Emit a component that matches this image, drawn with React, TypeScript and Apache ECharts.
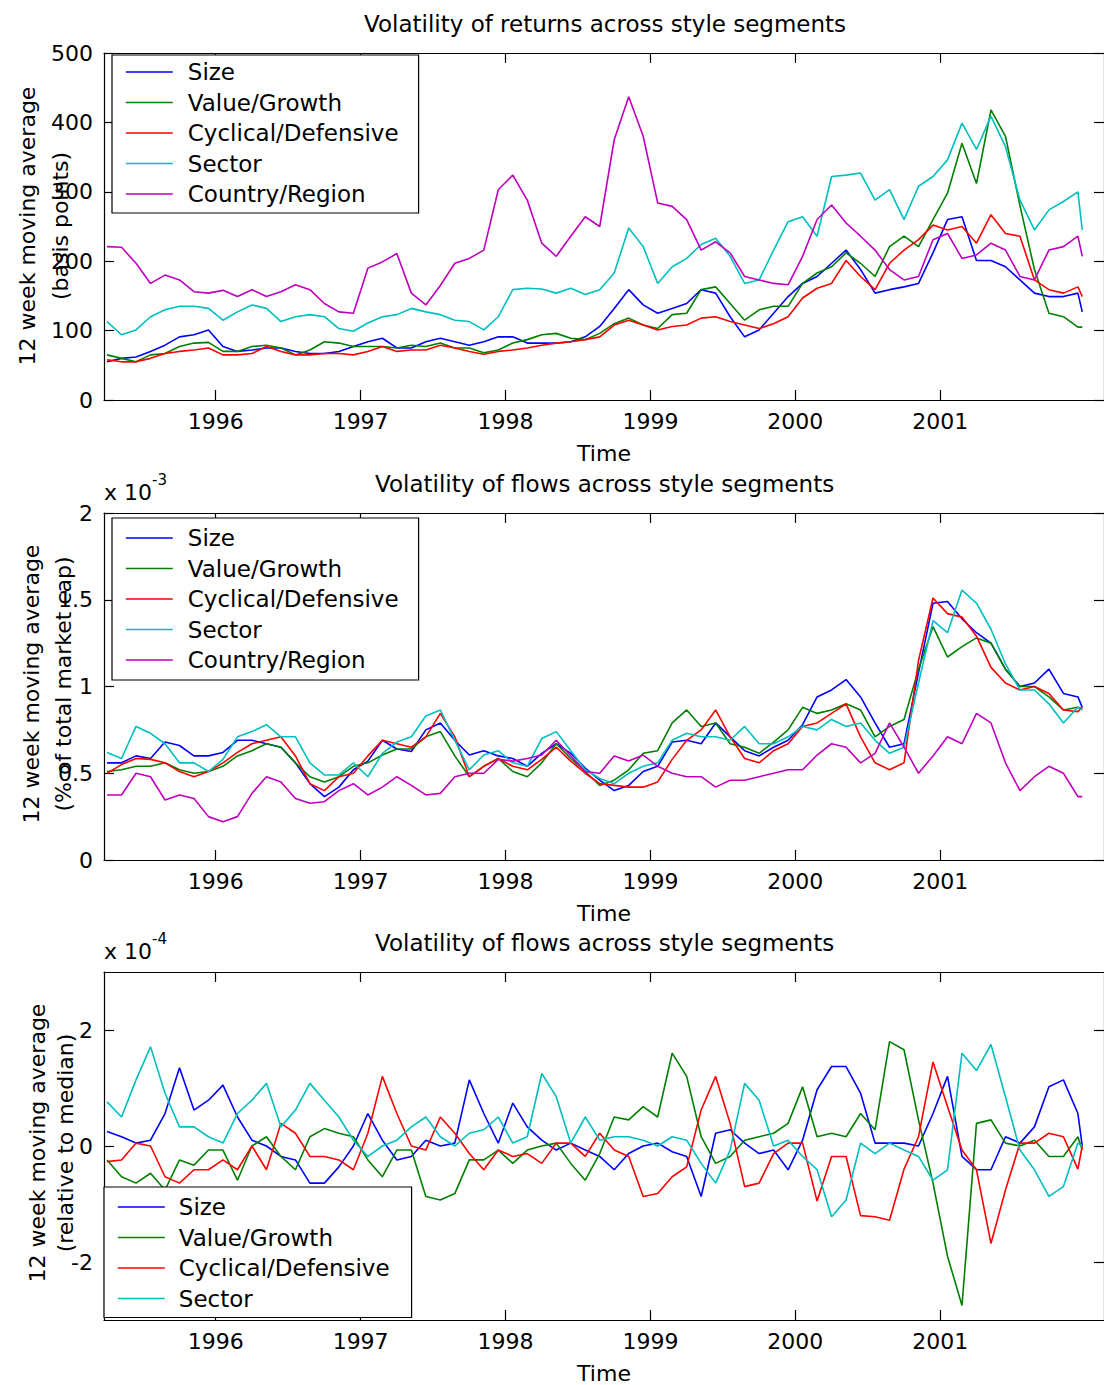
import React, { useEffect, useRef } from 'react';
import * as echarts from 'echarts';

// ---------- data ----------
const time = [
  1995.25, 1995.35, 1995.45, 1995.55, 1995.65, 1995.75, 1995.85, 1995.95,
  1996.05, 1996.15, 1996.25, 1996.35, 1996.45, 1996.55, 1996.65, 1996.75, 1996.85, 1996.95,
  1997.05, 1997.15, 1997.25, 1997.35, 1997.45, 1997.55, 1997.65, 1997.75, 1997.85, 1997.95,
  1998.05, 1998.15, 1998.25, 1998.35, 1998.45, 1998.55, 1998.65, 1998.75, 1998.85, 1998.95,
  1999.05, 1999.15, 1999.25, 1999.35, 1999.45, 1999.55, 1999.65, 1999.75, 1999.85, 1999.95,
  2000.05, 2000.15, 2000.25, 2000.35, 2000.45, 2000.55, 2000.65, 2000.75, 2000.85, 2000.95,
  2001.05, 2001.15, 2001.25, 2001.35, 2001.45, 2001.55, 2001.65, 2001.75, 2001.85, 2001.95, 2001.98,
];

// Panel 1: volatility of returns (basis points)
const retSize = [55, 60, 62, 70, 79, 91, 94, 101, 77, 70, 72, 75, 75, 70, 67, 67, 70, 77, 84, 89, 75, 75, 84, 89,
  84, 79, 84, 91, 91, 82, 82, 82, 84, 91, 106, 132, 159, 137, 125, 132, 139, 159, 154, 120, 91, 101,
  125, 149, 168, 178, 197, 216, 188, 154, 159, 163, 168, 212, 260, 264, 201, 201, 192, 173, 154, 149, 149, 154, 127];
const retValue = [65, 60, 55, 65, 67, 77, 82, 83, 70, 70, 77, 79, 75, 65, 72, 84, 82, 77, 77, 77, 75, 79, 77, 82,
  75, 75, 68, 72, 82, 87, 94, 96, 89, 87, 96, 110, 118, 108, 103, 123, 125, 159, 163, 139, 115, 130,
  135, 135, 168, 183, 192, 212, 197, 178, 221, 236, 221, 260, 298, 370, 312, 418, 380, 280, 188, 125, 120, 105, 105];
const retCyc = [58, 55, 55, 60, 67, 70, 72, 75, 65, 65, 67, 77, 70, 65, 65, 67, 67, 65, 70, 77, 70, 72, 72, 79,
  75, 70, 66, 70, 72, 75, 79, 82, 84, 87, 91, 108, 115, 108, 101, 106, 108, 118, 120, 113, 108, 103,
  110, 120, 147, 161, 168, 201, 178, 159, 197, 216, 231, 252, 245, 250, 226, 267, 240, 236, 173, 159, 154, 163, 149];
const retSector = [113, 94, 101, 120, 130, 135, 135, 132, 115, 127, 137, 132, 113, 120, 123, 120, 103, 99, 111, 120, 123, 132, 127, 123,
  115, 113, 101, 120, 159, 161, 160, 154, 161, 152, 159, 183, 248, 221, 168, 192, 204, 224, 233, 207, 168, 173,
  216, 257, 264, 236, 322, 324, 327, 288, 303, 260, 308, 322, 346, 399, 361, 409, 365, 288, 245, 274, 286, 300, 245];
const retCountry = [221, 220, 197, 168, 180, 173, 156, 154, 158, 149, 159, 149, 156, 166, 159, 139, 127, 125, 190, 199, 211, 154, 137, 165,
  197, 204, 216, 303, 324, 288, 226, 207, 236, 264, 250, 375, 437, 380, 284, 279, 260, 216, 228, 212, 178, 173,
  168, 166, 207, 260, 281, 255, 236, 216, 188, 173, 178, 231, 240, 204, 209, 226, 216, 178, 173, 216, 221, 236, 207];

// Panel 2: volatility of flows (x 10^-3, % of total market cap)
const flowSize = [0.56, 0.56, 0.60, 0.585, 0.68, 0.66, 0.60, 0.60, 0.62, 0.69, 0.69, 0.67, 0.65, 0.56, 0.44, 0.365, 0.42, 0.52, 0.57, 0.69, 0.64, 0.625, 0.75, 0.79,
  0.69, 0.605, 0.63, 0.60, 0.585, 0.54, 0.615, 0.67, 0.615, 0.53, 0.46, 0.40, 0.43, 0.51, 0.54, 0.68, 0.69, 0.67, 0.79, 0.71, 0.63, 0.60,
  0.65, 0.69, 0.78, 0.94, 0.98, 1.04, 0.94, 0.79, 0.65, 0.67, 1.08, 1.48, 1.49, 1.39, 1.31, 1.25, 1.10, 1.00, 1.02, 1.10, 0.96, 0.94, 0.88];
const flowValue = [0.51, 0.52, 0.54, 0.54, 0.56, 0.52, 0.50, 0.51, 0.54, 0.60, 0.63, 0.67, 0.65, 0.56, 0.48, 0.45, 0.48, 0.54, 0.56, 0.605, 0.64, 0.64, 0.71, 0.74,
  0.60, 0.48, 0.54, 0.585, 0.51, 0.48, 0.56, 0.67, 0.585, 0.51, 0.43, 0.46, 0.52, 0.615, 0.63, 0.79, 0.865, 0.77, 0.79, 0.67, 0.65, 0.615,
  0.68, 0.75, 0.88, 0.845, 0.865, 0.90, 0.865, 0.71, 0.77, 0.81, 1.10, 1.345, 1.17, 1.23, 1.28, 1.25, 1.10, 1.00, 1.00, 0.94, 0.865, 0.88, 0.875];
const flowCyc = [0.50, 0.55, 0.585, 0.58, 0.56, 0.51, 0.48, 0.51, 0.56, 0.62, 0.67, 0.69, 0.71, 0.60, 0.44, 0.40, 0.48, 0.50, 0.60, 0.69, 0.67, 0.65, 0.71, 0.845,
  0.71, 0.48, 0.54, 0.585, 0.54, 0.52, 0.58, 0.65, 0.57, 0.50, 0.44, 0.43, 0.42, 0.42, 0.45, 0.58, 0.69, 0.75, 0.865, 0.71, 0.585, 0.56,
  0.63, 0.67, 0.77, 0.79, 0.845, 0.90, 0.71, 0.56, 0.52, 0.56, 1.15, 1.51, 1.42, 1.40, 1.29, 1.11, 1.02, 0.98, 1.00, 0.96, 0.865, 0.855, 0.88];
const flowSector = [0.62, 0.585, 0.77, 0.73, 0.67, 0.56, 0.56, 0.51, 0.58, 0.71, 0.74, 0.78, 0.71, 0.71, 0.56, 0.49, 0.49, 0.56, 0.48, 0.615, 0.68, 0.71, 0.83, 0.865,
  0.69, 0.52, 0.605, 0.63, 0.56, 0.54, 0.70, 0.74, 0.63, 0.52, 0.47, 0.44, 0.50, 0.54, 0.56, 0.69, 0.73, 0.71, 0.71, 0.69, 0.77, 0.67,
  0.67, 0.71, 0.77, 0.75, 0.81, 0.77, 0.79, 0.69, 0.615, 0.65, 1.02, 1.38, 1.31, 1.556, 1.48, 1.33, 1.13, 0.98, 0.98, 0.90, 0.79, 0.88, 0.865];
const flowCountry = [0.375, 0.375, 0.50, 0.48, 0.346, 0.375, 0.355, 0.25, 0.22, 0.25, 0.384, 0.48, 0.45, 0.355, 0.327, 0.336, 0.40, 0.44, 0.375, 0.42, 0.48, 0.43, 0.375, 0.384,
  0.48, 0.50, 0.50, 0.58, 0.57, 0.585, 0.605, 0.69, 0.60, 0.51, 0.50, 0.60, 0.57, 0.605, 0.54, 0.50, 0.48, 0.48, 0.42, 0.46, 0.46, 0.48,
  0.50, 0.52, 0.52, 0.605, 0.67, 0.65, 0.56, 0.615, 0.79, 0.65, 0.50, 0.60, 0.71, 0.67, 0.845, 0.79, 0.56, 0.40, 0.48, 0.54, 0.50, 0.365, 0.365];

// Panel 3: volatility of flows relative to median (x 10^-4)
const relSize = [0.25, 0.16, 0.05, 0.1, 0.56, 1.35, 0.62, 0.79, 1.05, 0.5, 0.1, 0.0, -0.18, -0.24, -0.64, -0.64, -0.36, 0.0, 0.56, 0.1, -0.24, -0.18, 0.1, 0.0,
  0.05, 1.14, 0.56, 0.05, 0.74, 0.33, 0.1, -0.07, 0.05, -0.07, -0.18, -0.41, -0.13, 0.0, 0.05, -0.1, -0.18, -0.87, 0.22, 0.28, 0.05, -0.13,
  -0.07, -0.41, 0.1, 0.97, 1.37, 1.37, 0.91, 0.05, 0.05, 0.05, 0.0, 0.56, 1.2, -0.18, -0.41, -0.41, 0.16, 0.05, 0.33, 1.02, 1.14, 0.56, 0.0];
const relValue = [-0.24, -0.53, -0.64, -0.47, -0.76, -0.24, -0.33, -0.07, -0.07, -0.59, 0.0, 0.16, -0.18, -0.41, 0.16, 0.3, 0.22, 0.16, -0.24, -0.53, -0.07, -0.07, -0.87, -0.93,
  -0.82, -0.24, -0.24, -0.07, -0.3, -0.07, 0.0, 0.05, -0.3, -0.59, -0.13, 0.5, 0.45, 0.68, 0.5, 1.6, 1.2, 0.16, -0.3, -0.18, 0.1, 0.16,
  0.22, 0.39, 1.02, 0.16, 0.22, 0.16, 0.56, 0.28, 1.8, 1.66, 0.45, -0.64, -1.9, -2.75, 0.39, 0.45, 0.05, 0.0, 0.1, -0.18, -0.18, 0.16, -0.07];
const relCyc = [-0.27, -0.24, 0.05, 0.0, -0.53, -0.64, -0.41, -0.41, -0.24, -0.41, 0.0, -0.41, 0.39, 0.22, -0.18, -0.18, -0.24, -0.41, 0.22, 1.2, 0.56, 0.0, -0.07, 0.5,
  0.22, -0.13, -0.41, -0.07, -0.18, -0.13, -0.3, 0.05, 0.05, -0.18, 0.22, -0.07, -0.18, -0.87, -0.82, -0.53, -0.36, 0.62, 1.2, 0.39, -0.7, -0.64,
  -0.13, 0.05, 0.05, -0.95, -0.18, -0.18, -1.2, -1.22, -1.28, -0.4, 0.16, 1.45, 0.68, -0.07, -0.41, -1.68, -0.76, 0.05, 0.05, 0.22, 0.16, -0.4, 0.0];
const relSector = [0.76, 0.5, 1.14, 1.71, 0.91, 0.33, 0.33, 0.16, 0.05, 0.56, 0.79, 1.08, 0.33, 0.62, 1.08, 0.79, 0.5, 0.1, -0.18, 0.0, 0.1, 0.33, 0.5, 0.16,
  0.0, 0.22, 0.28, 0.5, 0.05, 0.16, 1.25, 0.85, 0.05, 0.5, 0.1, 0.16, 0.16, 0.1, 0.0, 0.16, 0.1, -0.3, -0.64, -0.07, 1.08, 0.79,
  0.0, 0.1, -0.18, -0.41, -1.22, -0.93, 0.05, -0.13, 0.05, -0.07, -0.18, -0.59, -0.41, 1.6, 1.3, 1.75, 0.85, -0.07, -0.41, -0.87, -0.7, 0.05, 0.0];

const seriesNames = ['Size', 'Value/Growth', 'Cyclical/Defensive', 'Sector', 'Country/Region'];
const seriesColors = ['#0000ff', '#008000', '#ff0000', '#00bfbf', '#bf00bf'];
const yearTicks = [1996, 1997, 1998, 1999, 2000, 2001];
const retTicks = [0, 100, 200, 300, 400, 500];
const flowTicks = [0, 0.5, 1, 1.5, 2];
const relTicks = [-2, 0, 2];
const titles = [
  'Volatility of returns across style segments',
  'Volatility of flows across style segments',
  'Volatility of flows across style segments',
];
const yLabels = [
  ['12 week moving average', '(basis points)'],
  ['12 week moving average', '(% of total market cap)'],
  ['12 week moving average', '(relative to median)'],
];
const exponents = ['', '-3', '-4'];

// ---------- layout ----------
const FONT = 'DejaVu Sans';
const FS = 22;
const FS_BIG = 23;
const T0 = 1995.229;
const T1 = 2002.13;
const GRID_LEFT = 104;
const GRID_W = 1005;
const PLOT_CENTER = 605;
const LINE_W = 1.6;
const AXIS_W = 1.2;

const panels = [
  { top: 53, height: 347, min: 0, max: 500, ticks: retTicks, data: [retSize, retValue, retCyc, retSector, retCountry],
    ylx: [27, 60], yly: 226, legend: { left: 112, top: 55, pad: [5, 20, 7, 13], textPad: 10 } },
  { top: 513, height: 347, min: 0, max: 2, ticks: flowTicks, data: [flowSize, flowValue, flowCyc, flowSector, flowCountry],
    ylx: [31, 63], yly: 684, legend: { left: 112, top: 518, pad: [8, 20, 8, 13], textPad: 10 } },
  { top: 972, height: 350, min: -3, max: 3, ticks: relTicks, data: [relSize, relValue, relCyc, relSector],
    ylx: [37, 65], yly: 1143, legend: { left: 104, top: 1187, pad: [8, 22, 7, 13], textPad: 9 } },
];

function measure(text: string, size: number): number {
  const c = document.createElement('canvas').getContext('2d');
  if (!c) return text.length * size * 0.6;
  c.font = `${size}px "${FONT}"`;
  return c.measureText(text).width;
}

export default function App() {
  const ref = useRef<HTMLDivElement>(null);

  useEffect(() => {
    if (!ref.current) return;
    const chart = echarts.init(ref.current, null, { renderer: 'svg' });

    const labelStyle = { fontFamily: FONT, fontSize: FS, color: '#000' };
    const axisLine = { show: true, onZero: false, lineStyle: { color: '#000', width: AXIS_W } };
    const xAxis: any[] = [];
    const yAxis: any[] = [];
    const series: any[] = [];
    const legend: any[] = [];
    const title: any[] = [];
    const graphic: any[] = [];

    panels.forEach((p, i) => {
      xAxis.push({
        type: 'value', gridIndex: i, position: 'bottom', min: T0, max: T1,
        axisLine,
        axisTick: { show: true, inside: true, length: 10, customValues: yearTicks, lineStyle: { color: '#000', width: AXIS_W } },
        axisLabel: { show: true, customValues: yearTicks, margin: 10, formatter: (v: number) => String(Math.round(v)), ...labelStyle, lineHeight: 22 },
        splitLine: { show: false },
        name: 'Time', nameLocation: 'middle', nameGap: 42,
        nameTextStyle: { ...labelStyle, lineHeight: 22 },
      });
      xAxis.push({
        type: 'value', gridIndex: i, position: 'top', min: T0, max: T1,
        axisLine,
        axisTick: { show: true, inside: true, length: 10, customValues: yearTicks, lineStyle: { color: '#000', width: AXIS_W } },
        axisLabel: { show: false },
        splitLine: { show: false },
      });
      yAxis.push({
        type: 'value', gridIndex: i, position: 'left', min: p.min, max: p.max,
        axisLine,
        axisTick: { show: true, inside: true, length: 10, customValues: p.ticks, lineStyle: { color: '#000', width: AXIS_W } },
        axisLabel: { show: true, customValues: p.ticks, margin: 11, ...labelStyle, lineHeight: 22 },
        splitLine: { show: false },
      });
      yAxis.push({
        type: 'value', gridIndex: i, position: 'right', min: p.min, max: p.max,
        axisLine,
        axisTick: { show: true, inside: true, length: 10, customValues: p.ticks, lineStyle: { color: '#000', width: AXIS_W } },
        axisLabel: { show: false },
        splitLine: { show: false },
      });

      const names = seriesNames.slice(0, p.data.length);
      p.data.forEach((vals, k) => {
        series.push({
          type: 'line', name: names[k], xAxisIndex: 2 * i, yAxisIndex: 2 * i,
          data: time.map((t, j) => [t, vals[j]]),
          symbol: 'none', showSymbol: false,
          lineStyle: { width: LINE_W, color: seriesColors[k] },
          itemStyle: { color: seriesColors[k] },
          z: 2,
        });
      });

      legend.push({
        data: names, orient: 'vertical', left: p.legend.left, top: p.legend.top,
        padding: p.legend.pad, itemWidth: 47, itemHeight: 14, itemGap: 6.5,
        borderColor: '#000', borderWidth: AXIS_W, backgroundColor: '#fff', borderRadius: 0,
        selectedMode: false,
        itemStyle: { opacity: 0 },
        lineStyle: { width: LINE_W },
        textStyle: { fontFamily: FONT, fontSize: FS_BIG, color: '#000', lineHeight: 24, padding: [0, 0, 0, p.legend.textPad] },
        z: 5,
      });

      const w = measure(titles[i], FS_BIG);
      title.push({
        text: titles[i], left: Math.round(PLOT_CENTER - w / 2), top: p.top - 40, padding: 0,
        textStyle: { fontFamily: FONT, fontSize: FS_BIG, color: '#000', fontWeight: 'normal', lineHeight: 22 },
      });

      graphic.push({
        type: 'text', x: p.ylx[0], y: p.yly, rotation: Math.PI / 2,
        style: { text: yLabels[i][0], align: 'center', verticalAlign: 'middle', font: `${FS}px "${FONT}"`, fill: '#000' },
      });
      graphic.push({
        type: 'text', x: p.ylx[1], y: p.yly, rotation: Math.PI / 2,
        style: { text: yLabels[i][1], align: 'center', verticalAlign: 'middle', font: `${FS}px "${FONT}"`, fill: '#000' },
      });
      if (exponents[i]) {
        graphic.push({
          type: 'text', x: 104, y: p.top - 21,
          style: { text: 'x 10', align: 'left', verticalAlign: 'middle', font: `${FS}px "${FONT}"`, fill: '#000' },
        });
        graphic.push({
          type: 'text', x: 152, y: p.top - 33,
          style: { text: exponents[i], align: 'left', verticalAlign: 'middle', font: `15px "${FONT}"`, fill: '#000' },
        });
      }
    });

    chart.setOption({
      animation: false,
      backgroundColor: '#fff',
      textStyle: { fontFamily: FONT },
      title,
      grid: panels.map((p) => ({ left: GRID_LEFT, top: p.top, width: GRID_W, height: p.height, containLabel: false })),
      xAxis,
      yAxis,
      legend,
      graphic,
      series,
    });
    return () => chart.dispose();
  }, []);

  return (
    <div
      ref={ref}
      style={{ position: 'absolute', left: 0, top: 0, width: 1104, height: 1385, background: '#fff' }}
    />
  );
}
